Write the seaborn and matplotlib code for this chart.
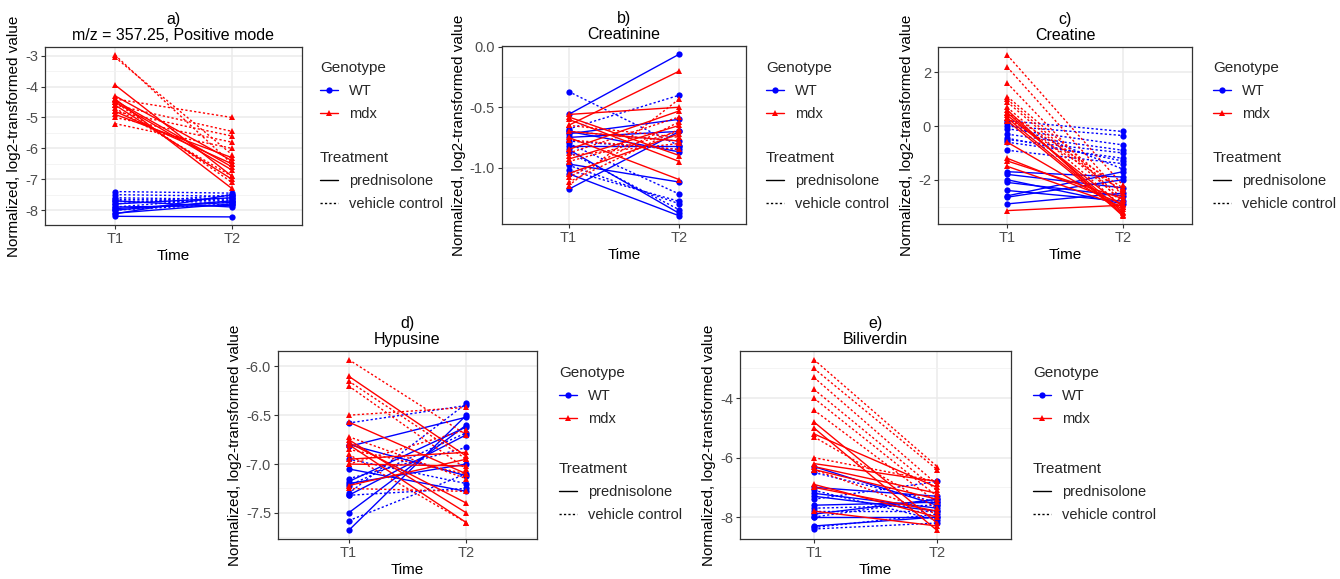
import numpy as np
import pandas as pd
import matplotlib
matplotlib.use("Agg")
import matplotlib.pyplot as plt
import seaborn as sns
from matplotlib.lines import Line2D
from matplotlib.ticker import MultipleLocator, FuncFormatter

sns.set_style("white")
plt.rcParams["font.family"] = ["Liberation Sans", "DejaVu Sans"]
plt.rcParams["axes.unicode_minus"] = False

TIMES = ["T1", "T2"]
GENOTYPES = ["WT", "mdx"]
TREATMENTS = ["prednisolone", "vehicle control"]
COLORS = {"WT": "#0000FF", "mdx": "#FF0000"}
MARKERS = {"WT": "o", "mdx": "^"}

# ---------------- Panel a: m/z = 357.25 ----------------
a_wt_pred_t1 = [-8.20, -8.10, -8.00, -7.90, -7.80, -8.12, -7.70, -7.95]
a_wt_pred_t2 = [-8.22, -7.80, -7.70, -7.85, -7.60, -7.50, -7.90, -7.75]
a_wt_veh_t1 = [-7.40, -7.50, -7.65, -7.70, -7.90, -8.00, -7.80, -7.60]
a_wt_veh_t2 = [-7.45, -7.55, -7.70, -7.75, -7.60, -7.80, -7.50, -7.65]
a_mdx_pred_t1 = [-3.95, -4.30, -4.40, -4.50, -4.60, -4.80, -4.90, -4.45]
a_mdx_pred_t2 = [-6.90, -6.40, -7.30, -6.70, -7.00, -6.50, -6.30, -6.60]
a_mdx_veh_t1 = [-2.98, -3.05, -4.40, -4.60, -4.80, -5.00, -5.20, -4.70, -4.50]
a_mdx_veh_t2 = [-6.50, -6.20, -5.00, -5.45, -5.60, -5.80, -6.00, -6.90, -7.10]

# ---------------- Panel b: Creatinine ----------------
b_wt_pred_t1 = [-0.56, -1.18, -0.85, -1.05, -0.97, -0.72, -0.82, -0.70, -0.75]
b_wt_pred_t2 = [-0.06, -0.70, -1.38, -1.40, -1.12, -0.60, -0.82, -0.87, -0.70]
b_wt_veh_t1 = [-0.37, -0.68, -0.80, -0.98, -0.87, -0.70, -0.78, -1.02]
b_wt_veh_t2 = [-0.82, -0.40, -1.22, -1.30, -1.35, -0.78, -0.85, -1.28]
b_mdx_pred_t1 = [-0.65, -0.56, -0.60, -0.75, -0.58, -0.93, -1.05, -0.85, -0.70]
b_mdx_pred_t2 = [-0.20, -0.50, -0.95, -1.10, -0.90, -0.65, -0.72, -0.53, -0.78]
b_mdx_veh_t1 = [-1.15, -1.08, -0.95, -0.90, -0.77, -1.12, -0.88, -0.65]
b_mdx_veh_t2 = [-0.43, -0.62, -0.70, -0.80, -0.85, -0.68, -0.58, -0.75]

# ---------------- Panel c: Creatine ----------------
c_wt_pred_t1 = [-1.70, -1.80, -2.00, -2.10, -2.60, -2.65, -2.90, -2.40]
c_wt_pred_t2 = [-1.90, -2.30, -2.90, -2.60, -1.70, -2.00, -2.50, -2.80]
c_wt_veh_t1 = [0.20, 0.00, -0.10, -0.50, -0.60, -0.90, 0.10, -0.30, -0.45]
c_wt_veh_t2 = [-0.20, -0.35, -0.70, -1.00, -1.20, -1.40, -1.60, -0.90, -1.30]
c_mdx_pred_t1 = [0.60, 0.50, 0.40, 0.20, -0.60, -1.20, -1.30, -1.50, -3.15, 0.30]
c_mdx_pred_t2 = [-3.35, -3.20, -3.00, -3.30, -3.10, -2.90, -2.70, -3.00, -2.95, -3.25]
c_mdx_veh_t1 = [2.65, 2.20, 1.60, 1.10, 1.00, 0.70, 0.30, 0.90, 0.50]
c_mdx_veh_t2 = [-2.20, -2.60, -2.90, -2.50, -2.70, -3.00, -2.40, -2.80, -2.30]

# ---------------- Panel d: Hypusine ----------------
d_wt_pred_t1 = [-7.68, -7.50, -7.32, -7.18, -7.05, -6.80, -7.20, -6.82]
d_wt_pred_t2 = [-6.50, -6.60, -6.70, -6.62, -7.28, -7.12, -7.00, -6.52]
d_wt_veh_t1 = [-7.58, -7.30, -7.15, -6.58, -6.95, -7.22, -7.32]
d_wt_veh_t2 = [-7.10, -6.38, -6.83, -6.40, -7.20, -6.68, -7.25]
d_mdx_pred_t1 = [-6.10, -6.57, -6.78, -6.80, -6.95, -7.00, -6.75, -7.22]
d_mdx_pred_t2 = [-6.92, -7.10, -7.40, -7.60, -6.88, -7.02, -7.50, -6.95]
d_mdx_veh_t1 = [-5.93, -6.15, -6.20, -6.50, -6.72, -6.90, -7.00, -7.25, -6.85]
d_mdx_veh_t2 = [-6.70, -6.95, -7.05, -6.42, -7.15, -7.60, -6.65, -7.28, -7.10]

# ---------------- Panel e: Biliverdin ----------------
e_wt_pred_t1 = [-6.30, -7.00, -7.30, -7.60, -7.90, -8.00, -8.30, -7.20]
e_wt_pred_t2 = [-7.60, -7.30, -7.80, -7.50, -7.40, -8.00, -8.00, -7.70]
e_wt_veh_t1 = [-6.50, -7.10, -7.40, -7.70, -7.80, -8.00, -8.35, -8.40]
e_wt_veh_t2 = [-7.50, -8.10, -6.80, -7.60, -7.80, -7.40, -7.90, -8.20]
e_mdx_pred_t1 = [-4.80, -5.00, -5.20, -6.20, -6.30, -6.40, -6.90, -7.00, -7.80]
e_mdx_pred_t2 = [-8.20, -8.45, -7.00, -6.80, -7.20, -7.40, -8.00, -7.80, -8.30]
e_mdx_veh_t1 = [-2.70, -3.00, -3.30, -3.70, -4.00, -4.40, -5.30, -6.00, -6.40]
e_mdx_veh_t2 = [-6.30, -6.40, -6.90, -7.10, -7.30, -7.50, -7.70, -6.80, -7.90]

PANELS = [
    dict(title="a)\nm/z = 357.25, Positive mode",
         groups={("WT", "prednisolone"): (a_wt_pred_t1, a_wt_pred_t2),
                 ("WT", "vehicle control"): (a_wt_veh_t1, a_wt_veh_t2),
                 ("mdx", "prednisolone"): (a_mdx_pred_t1, a_mdx_pred_t2),
                 ("mdx", "vehicle control"): (a_mdx_veh_t1, a_mdx_veh_t2)},
         major=1.0, minor=0.5, fmt="{:.0f}",
         box=(45, 47, 302, 225), leg=(320, 61, 151)),
    dict(title="b)\nCreatinine",
         groups={("WT", "prednisolone"): (b_wt_pred_t1, b_wt_pred_t2),
                 ("WT", "vehicle control"): (b_wt_veh_t1, b_wt_veh_t2),
                 ("mdx", "prednisolone"): (b_mdx_pred_t1, b_mdx_pred_t2),
                 ("mdx", "vehicle control"): (b_mdx_veh_t1, b_mdx_veh_t2)},
         major=0.5, minor=0.25, fmt="{:.1f}",
         box=(502, 46, 746, 224), leg=(766, 61, 151)),
    dict(title="c)\nCreatine",
         groups={("WT", "prednisolone"): (c_wt_pred_t1, c_wt_pred_t2),
                 ("WT", "vehicle control"): (c_wt_veh_t1, c_wt_veh_t2),
                 ("mdx", "prednisolone"): (c_mdx_pred_t1, c_mdx_pred_t2),
                 ("mdx", "vehicle control"): (c_mdx_veh_t1, c_mdx_veh_t2)},
         major=2.0, minor=1.0, fmt="{:.0f}",
         box=(938, 47, 1192, 224), leg=(1213, 61, 151)),
    dict(title="d)\nHypusine",
         groups={("WT", "prednisolone"): (d_wt_pred_t1, d_wt_pred_t2),
                 ("WT", "vehicle control"): (d_wt_veh_t1, d_wt_veh_t2),
                 ("mdx", "prednisolone"): (d_mdx_pred_t1, d_mdx_pred_t2),
                 ("mdx", "vehicle control"): (d_mdx_veh_t1, d_mdx_veh_t2)},
         major=0.5, minor=0.25, fmt="{:.1f}",
         box=(278, 351, 537, 539), leg=(559, 366, 462)),
    dict(title="e)\nBiliverdin",
         groups={("WT", "prednisolone"): (e_wt_pred_t1, e_wt_pred_t2),
                 ("WT", "vehicle control"): (e_wt_veh_t1, e_wt_veh_t2),
                 ("mdx", "prednisolone"): (e_mdx_pred_t1, e_mdx_pred_t2),
                 ("mdx", "vehicle control"): (e_mdx_veh_t1, e_mdx_veh_t2)},
         major=2.0, minor=1.0, fmt="{:.0f}",
         box=(740, 351, 1011, 539), leg=(1033, 366, 462)),
]

W, H = 1340, 579
fig = plt.figure(figsize=(W / 100, H / 100), dpi=100)


def make_df(groups):
    rows = []
    for (g, t), (t1, t2) in groups.items():
        for i, (v1, v2) in enumerate(zip(t1, t2)):
            mid = f"{g}-{t}-{i}"
            rows.append((mid, TIMES[0], v1, g, t))
            rows.append((mid, TIMES[1], v2, g, t))
    return pd.DataFrame(rows, columns=["Mouse", "Time", "Value", "Genotype", "Treatment"])


DASHES = {"prednisolone": "", "vehicle control": (1.6, 1.6)}

for p in PANELS:
    x0, y0, x1, y1 = p["box"]
    ax = fig.add_axes([x0 / W, 1 - y1 / H, (x1 - x0) / W, (y1 - y0) / H])
    df = make_df(p["groups"])
    for g in GENOTYPES:
        sub = df[df["Genotype"] == g]
        sns.lineplot(data=sub, x="Time", y="Value", units="Mouse", estimator=None,
                     hue="Genotype", palette=COLORS, style="Treatment", dashes=DASHES,
                     marker=MARKERS[g], markersize=5 if g == "mdx" else 4.5,
                     markeredgewidth=0, linewidth=1.0, legend=False, ax=ax, sort=False)
    ax.set_xlim(-0.6, 1.6)
    ax.set_xticks([0, 1])
    ax.set_xticklabels(TIMES)
    ax.yaxis.set_major_locator(MultipleLocator(p["major"]))
    ax.yaxis.set_minor_locator(MultipleLocator(p["minor"]))
    fmt = p["fmt"]
    ax.yaxis.set_major_formatter(FuncFormatter(lambda v, pos, f=fmt: f.format(v).replace("\u2212", "-")))
    ax.set_axisbelow(True)
    ax.grid(True, which="major", color="#EBEBEB", linewidth=1.1)
    ax.grid(True, which="minor", axis="y", color="#F2F2F2", linewidth=0.6)
    for s in ax.spines.values():
        s.set_color("#333333")
        s.set_linewidth(0.9)
    ax.tick_params(axis="both", which="major", direction="out", length=3, width=0.8,
                   color="#333333", labelcolor="#4D4D4D", labelsize=10.5, pad=2,
                   left=True, bottom=True)
    ax.tick_params(axis="both", which="minor", length=0)
    ax.set_xlabel("Time", fontsize=11, color="black", labelpad=2)
    ax.set_ylabel("Normalized, log2-transformed value", fontsize=11, color="black", labelpad=3)
    ax.set_title(p["title"], fontsize=11.5, color="black", pad=5, linespacing=1.05)

    lx, ty1, ty2 = p["leg"]
    gh = [Line2D([], [], color=COLORS[g], marker=MARKERS[g], lw=1.0,
                 markersize=5 if g == "mdx" else 4.5, markeredgewidth=0) for g in GENOTYPES]
    th = [Line2D([], [], color="black", lw=1.0, linestyle="-"),
          Line2D([], [], color="black", lw=1.0, dashes=DASHES["vehicle control"])]
    common = dict(loc="upper left", bbox_transform=fig.transFigure, frameon=False,
                  fontsize=10.5, title_fontsize=11, borderpad=0, borderaxespad=0,
                  handlelength=1.25, handletextpad=0.75, labelspacing=0.62,
                  alignment="left")
    leg1 = ax.legend(gh, GENOTYPES, title="Genotype",
                     bbox_to_anchor=(lx / W, 1 - ty1 / H), **common)
    ax.add_artist(leg1)
    ax.legend(th, TREATMENTS, title="Treatment",
              bbox_to_anchor=(lx / W, 1 - ty2 / H), **common)

fig.savefig("out.png", dpi=100)
